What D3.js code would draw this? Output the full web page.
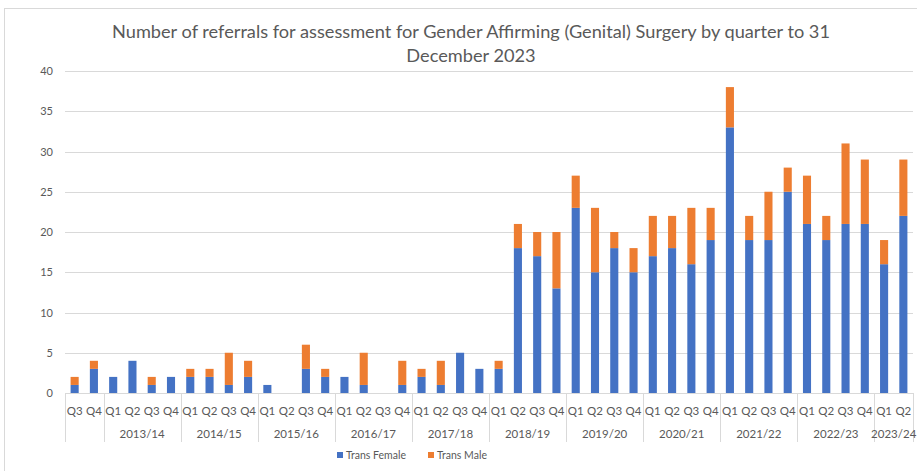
<!DOCTYPE html>
<html><head><meta charset="utf-8">
<script src="https://cdn.jsdelivr.net/npm/d3@7"></script>
<style>body{margin:0;background:#fff;} svg{display:block;}</style>
</head><body>
<svg id="c" width="917" height="471"></svg>
<script>
const years = ["2012/13","2013/14","2014/15","2015/16","2016/17","2017/18","2018/19","2019/20","2020/21","2021/22","2022/23","2023/24"];
const yearLabels = ["","2013/14","2014/15","2015/16","2016/17","2017/18","2018/19","2019/20","2020/21","2021/22","2022/23","2023/24"];
const quarters = ["Q3","Q4",
 "Q1","Q2","Q3","Q4","Q1","Q2","Q3","Q4","Q1","Q2","Q3","Q4","Q1","Q2","Q3","Q4",
 "Q1","Q2","Q3","Q4","Q1","Q2","Q3","Q4","Q1","Q2","Q3","Q4","Q1","Q2","Q3","Q4",
 "Q1","Q2","Q3","Q4","Q1","Q2","Q3","Q4","Q1","Q2"];
const quarterYear = [0,0, 1,1,1,1, 2,2,2,2, 3,3,3,3, 4,4,4,4, 5,5,5,5, 6,6,6,6, 7,7,7,7, 8,8,8,8, 9,9,9,9, 10,10,10,10, 11,11];
const transFemale = [1,3, 2,4,1,2, 2,2,1,2, 1,0,3,2, 2,1,0,1, 2,1,5,3, 3,18,17,13, 23,15,18,15, 17,18,16,19, 33,19,19,25, 21,19,21,21, 16,22];
const transMale   = [1,1, 0,0,1,0, 1,1,4,2, 0,0,3,1, 0,4,0,3, 1,3,0,0, 1,3,3,7, 4,8,2,3, 5,4,7,4, 5,3,6,3, 6,3,10,8, 3,7];
const yTicks = [0,5,10,15,20,25,30,35,40];
const seriesNames = ["Trans Female","Trans Male"];
const colors = ["#4472C4","#ED7D31"];

(function(){
const svg = d3.select("#c");
const font = "Lato, 'Open Sans', sans-serif";
const txt = "#595959";

svg.append("rect").attr("x",4.5).attr("y",8.5).attr("width",930).attr("height",480)
  .attr("fill","#fff").attr("stroke","#d9d9d9");

const pLeft = 65, pRight = 913, pTop = 71, pBottom = 393;
const idx = d3.range(quarters.length);
const x = d3.scaleBand().domain(idx).range([pLeft, pRight]).paddingInner(0.58).paddingOuter(0.29);
const y = d3.scaleLinear().domain([0,40]).range([pBottom, pTop]);

svg.append("g").selectAll("line").data(yTicks).join("line")
  .attr("x1",pLeft).attr("x2",pRight)
  .attr("y1",d=>Math.round(y(d))+0.5).attr("y2",d=>Math.round(y(d))+0.5)
  .attr("stroke","#d9d9d9").attr("stroke-width",1);

const yAxis = d3.axisLeft(y).tickValues(yTicks).tickSize(0).tickPadding(0);
const ga = svg.append("g").attr("transform",`translate(${pLeft-12},0)`).call(yAxis);
ga.select(".domain").remove();
ga.selectAll("text").attr("fill",txt).style("font-family",font).style("font-size","11px");

const rows = idx.map(i => ({i, f: transFemale[i], m: transMale[i]}));
const stack = d3.stack().keys(["f","m"])(rows);
svg.append("g").selectAll("g").data(stack).join("g").attr("fill",(d,k)=>colors[k])
  .selectAll("rect").data(d=>d).join("rect")
  .attr("x",d=>x(d.data.i)).attr("width",x.bandwidth())
  .attr("y",d=>y(d[1])).attr("height",d=>y(d[0])-y(d[1]));

const step = x.step();
const bandStart = i => pLeft + i*step;
const boundaries = [0];
for (let i=1;i<quarters.length;i++) if (quarterYear[i]!==quarterYear[i-1]) boundaries.push(i);
boundaries.push(quarters.length);
svg.append("g").selectAll("line").data(boundaries).join("line")
  .attr("x1",d=>Math.round(bandStart(d))+0.5).attr("x2",d=>Math.round(bandStart(d))+0.5)
  .attr("y1",pBottom).attr("y2",442).attr("stroke","#d9d9d9");
svg.append("line").attr("x1",pLeft).attr("x2",pRight).attr("y1",pBottom+0.5).attr("y2",pBottom+0.5).attr("stroke","#d9d9d9");

svg.append("g").selectAll("text").data(idx).join("text")
  .attr("x",i=>x(i)+x.bandwidth()/2).attr("y",415)
  .attr("text-anchor","middle").attr("fill",txt)
  .style("font-family",font).style("font-size","11.5px")
  .text(i=>quarters[i]);

const groups = d3.range(years.length).map(g => {
  const members = idx.filter(i=>quarterYear[i]===g);
  return {label: yearLabels[g], a: members[0], b: members[members.length-1]+1};
});
svg.append("g").selectAll("text").data(groups).join("text")
  .attr("x",d=>(bandStart(d.a)+bandStart(d.b))/2).attr("y",438)
  .attr("text-anchor","middle").attr("fill",txt)
  .style("font-family",font).style("font-size","11.5px")
  .text(d=>d.label);

const title = svg.append("text").attr("text-anchor","middle").attr("fill",txt)
  .style("font-family",font).style("font-size","18.2px");
title.append("tspan").attr("x",471).attr("y",38).text("Number of referrals for assessment for Gender Affirming (Genital) Surgery by quarter to 31");
title.append("tspan").attr("x",471).attr("y",62).text("December 2023");

const lg = svg.append("g");
const lx = [337, 428];
seriesNames.forEach((n,k)=>{
  lg.append("rect").attr("x",lx[k]).attr("y",452).attr("width",6).attr("height",6).attr("fill",colors[k]);
  lg.append("text").attr("x",lx[k]+9).attr("y",459).attr("fill",txt)
    .style("font-family",font).style("font-size","10.5px").text(n);
});
})();
</script>
</body></html>
